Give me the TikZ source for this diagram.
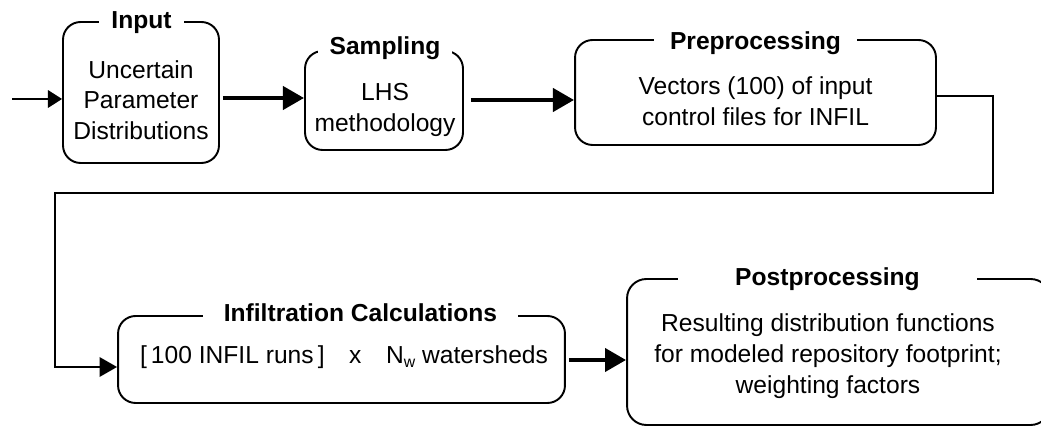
\documentclass[tikz,border=0pt]{standalone}
\usepackage{fontspec}
\setmainfont{Liberation Sans}
\usetikzlibrary{arrows.meta}
\begin{document}
\begin{tikzpicture}[x=0.02cm,y=-0.02cm,
  box/.style={draw, line width=1.1pt, rounded corners=10pt, inner sep=0pt},
  boxtitle/.style={fill=white, font=\fontsize{14}{17}\selectfont\bfseries,
    anchor=base, inner xsep=0pt, inner ysep=1.5pt},
  boxbody/.style={align=center, font=\fontsize{14}{17.5}\selectfont, inner sep=0pt},
  flow/.style={line width=2.6pt, -{Triangle[length=12pt,width=13pt]}},
  link/.style={line width=1.5pt, -{Triangle[length=10pt,width=11pt]}},
  feed/.style={line width=0.8pt, -{Triangle[length=8pt,width=10pt]}}]

\clip (0,0) rectangle (1041,428);

% process boxes
\node[box, minimum width=3.12cm, minimum height=2.82cm] (input) at (141,92.5) {};
\node[box, minimum width=3.16cm, minimum height=1.98cm] (sampling) at (384,100.5) {};
\node[box, minimum width=7.22cm, minimum height=2.10cm] (preproc) at (755.5,92.5) {};
\node[box, minimum width=8.94cm, minimum height=1.74cm] (infil) at (341.5,359.5) {};
\node[box, minimum width=8.46cm, minimum height=2.92cm, rounded corners=11pt] (postproc) at (838.5,352) {};

% titles sitting on the top edges
\node[boxtitle, minimum width=1.72cm] (inputT) at (141.5,29) {Input};
\node[boxtitle, minimum width=2.70cm] (samplingT) at (385,55) {Sampling};
\node[boxtitle, minimum width=4.08cm] (preprocT) at (755.5,50) {Preprocessing};
\node[boxtitle, minimum width=6.30cm] (infilT) at (360.5,322) {Infiltration Calculations};
\node[boxtitle, minimum width=6.00cm] (postprocT) at (827.5,286) {Postprocessing};

% box contents
\node[boxbody] (inputB) at (141,100) {Uncertain\\Parameter\\Distributions};
\node[boxbody] (samplingB) at (385,110) {LHS\\methodology};
\node[boxbody] (preprocB) at (755.5,101) {Vectors (100) of input\\control files for INFIL};
\node[boxbody] (infilB) at (344,357)
  {[\,100 INFIL runs\,]\quad x\quad N\raisebox{-0.35ex}{\fontsize{9}{9}\selectfont w} watersheds};
\node[boxbody] (postprocB) at (828,356)
  {Resulting distribution functions\\for modeled repository footprint;\\weighting factors};

% connectors
\coordinate (start) at (12,99);
\coordinate (a1) at (0,98);
\coordinate (a2) at (0,100);
\coordinate (r1) at (993,96);
\coordinate (r2) at (993,193);
\coordinate (l1) at (55,193);
\coordinate (l2) at (55,367);
\coordinate (a3) at (0,360);

\draw[feed] (start) -- (input.west |- start);
\draw[flow] (input.east |- a1) ++(3,0) -- (sampling.west |- a1);
\draw[flow] (sampling.east |- a2) ++(7,0) -- (preproc.west |- a2);
\draw[link] (preproc.east |- r1) -- (r1) -- (r2) -- (l1) -- (l2) -- (infil.west |- l2);
\draw[flow] (infil.east |- a3) ++(3,0) -- (postproc.west |- a3);

\end{tikzpicture}
\end{document}
